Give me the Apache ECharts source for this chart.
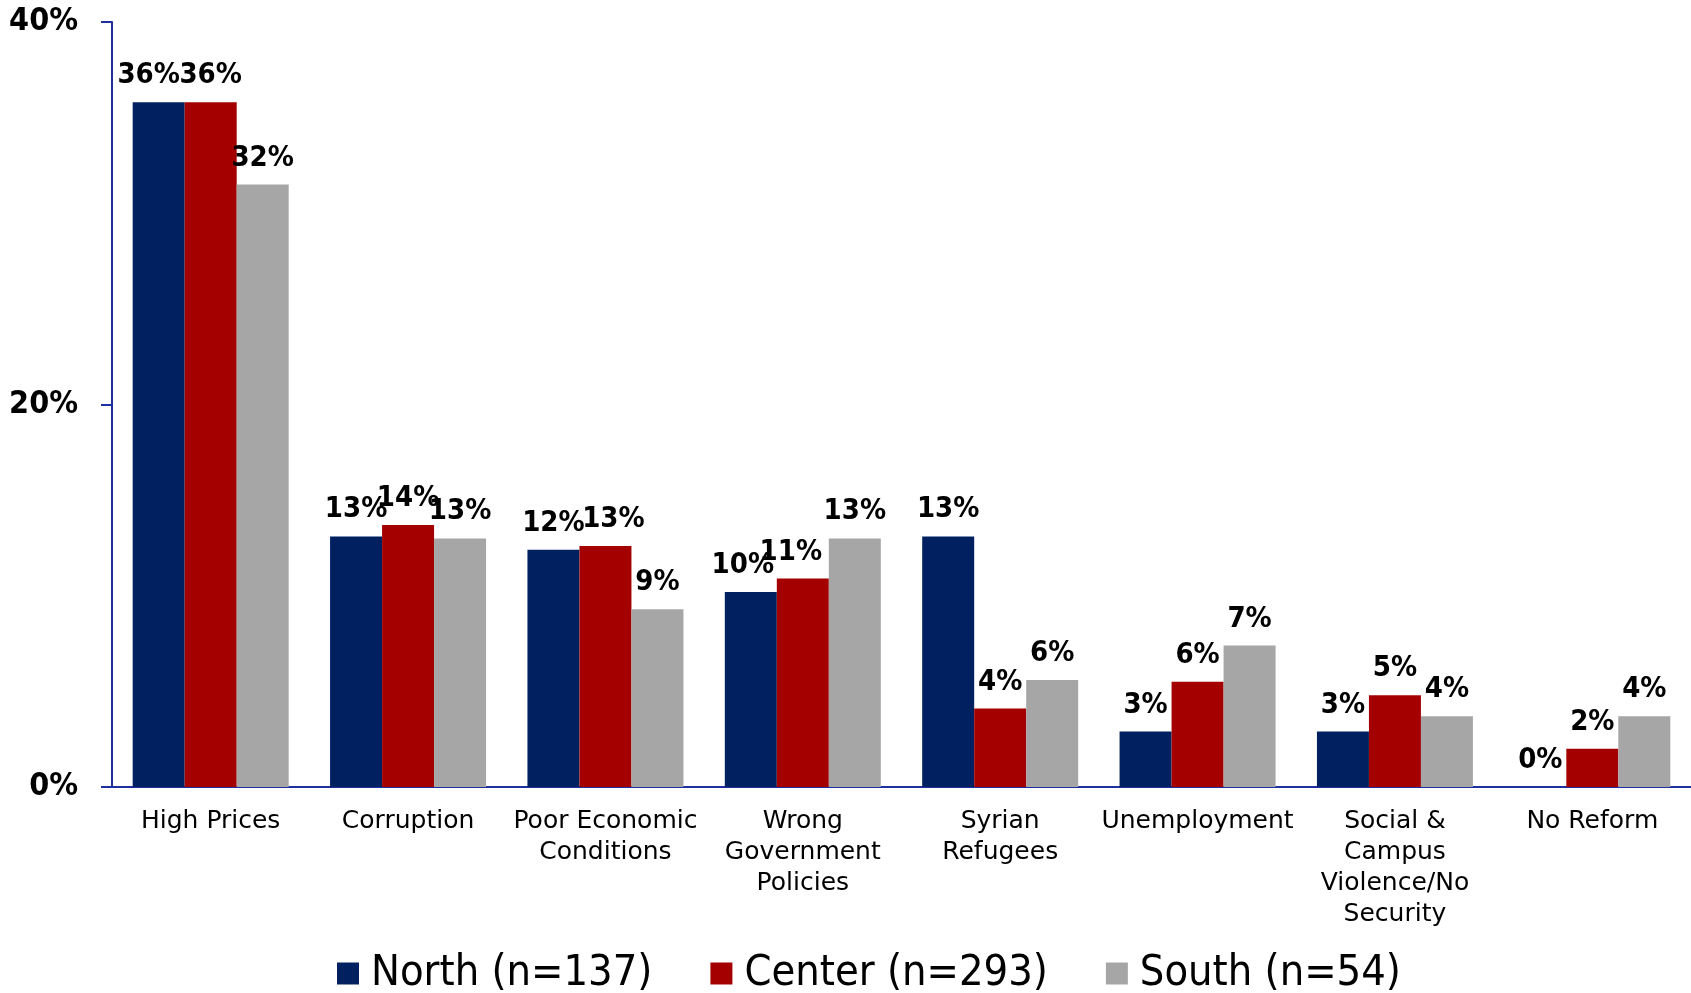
<!DOCTYPE html>
<html>
<head>
<meta charset="utf-8">
<script src="https://cdn.jsdelivr.net/npm/echarts@6/dist/echarts.min.js"></script>
<style>
html,body{margin:0;padding:0;background:#fff;}
#chart{width:1691px;height:993px;}
</style>
</head>
<body>
<div id="chart"></div>
<script>
var categories = ["High Prices", "Corruption", "Poor Economic\nConditions", "Wrong\nGovernment\nPolicies", "Syrian\nRefugees", "Unemployment", "Social &\nCampus\nViolence/No\nSecurity", "No Reform"];
var seriesNames = ["North (n=137)", "Center (n=293)", "South (n=54)"];
var northValues = [35.8, 13.1, 12.4, 10.2, 13.1, 2.9, 2.9, 0];
var centerValues = [35.8, 13.7, 12.6, 10.9, 4.1, 5.5, 4.8, 2.0];
var southValues = [31.5, 13.0, 9.3, 13.0, 5.6, 7.4, 3.7, 3.7];
var yTicks = [0, 20, 40];

var FONT = "'DejaVu Sans Condensed', 'DejaVu Sans', sans-serif";
var FONT_WIDE = "'DejaVu Sans', sans-serif";
var colors = ["#002060", "#A50000", "#A6A6A6"];
var axisColor = "#1F2F9F";
// manual label nudges seen in the reference (series index -> {category index: x offset px})
var labelNudges = { 0: { 0: -10, 3: -8 }, 1: { 2: 8, 3: -12 } };

function makeSeries(idx, name, data, color) {
  var nudges = labelNudges[idx] || {};
  var items = data.map(function (v, i) {
    if (nudges[i] !== undefined) {
      return { value: v, label: { offset: [nudges[i], 0] } };
    }
    return v;
  });
  return {
    name: name,
    type: "bar",
    data: items,
    barWidth: 52,
    barGap: "0%",
    itemStyle: { color: color },
    label: {
      show: true,
      position: "top",
      distance: 12,
      fontFamily: FONT,
      fontSize: 29,
      fontWeight: "bold",
      color: "#000",
      formatter: function (p) { return Math.round(p.value) + "%"; }
    }
  };
}

var chart = echarts.init(document.getElementById("chart"), null, { renderer: "canvas" });
chart.setOption({
  animation: false,
  backgroundColor: "#fff",
  textStyle: { fontFamily: FONT },
  grid: { left: 112, right: 0, top: 22, bottom: 206, containLabel: false },
  legend: {
    left: 332,
    top: 947,
    itemWidth: 22,
    itemHeight: 22,
    itemGap: 58,
    icon: "rect",
    textStyle: { fontFamily: FONT, fontSize: 43, color: "#000", padding: [0, 0, 0, 7] },
    data: seriesNames
  },
  xAxis: {
    type: "category",
    data: categories,
    axisLine: { show: true, lineStyle: { color: axisColor, width: 2 } },
    axisTick: { show: false },
    axisLabel: {
      interval: 0,
      margin: 19,
      fontFamily: FONT_WIDE,
      fontSize: 25,
      lineHeight: 31,
      color: "#000"
    }
  },
  yAxis: {
    type: "value",
    min: yTicks[0],
    max: yTicks[yTicks.length - 1],
    interval: yTicks[1] - yTicks[0],
    splitLine: { show: false },
    axisLine: { show: true, lineStyle: { color: axisColor, width: 2 } },
    axisTick: { show: true, length: 11, lineStyle: { color: axisColor, width: 2 } },
    axisLabel: {
      margin: 34,
      fontFamily: FONT,
      fontSize: 32,
      fontWeight: "bold",
      color: "#000",
      padding: [5, 0, 0, 0],
      formatter: "{value}%"
    }
  },
  series: [
    makeSeries(0, seriesNames[0], northValues, colors[0]),
    makeSeries(1, seriesNames[1], centerValues, colors[1]),
    makeSeries(2, seriesNames[2], southValues, colors[2])
  ]
});
</script>
</body>
</html>
